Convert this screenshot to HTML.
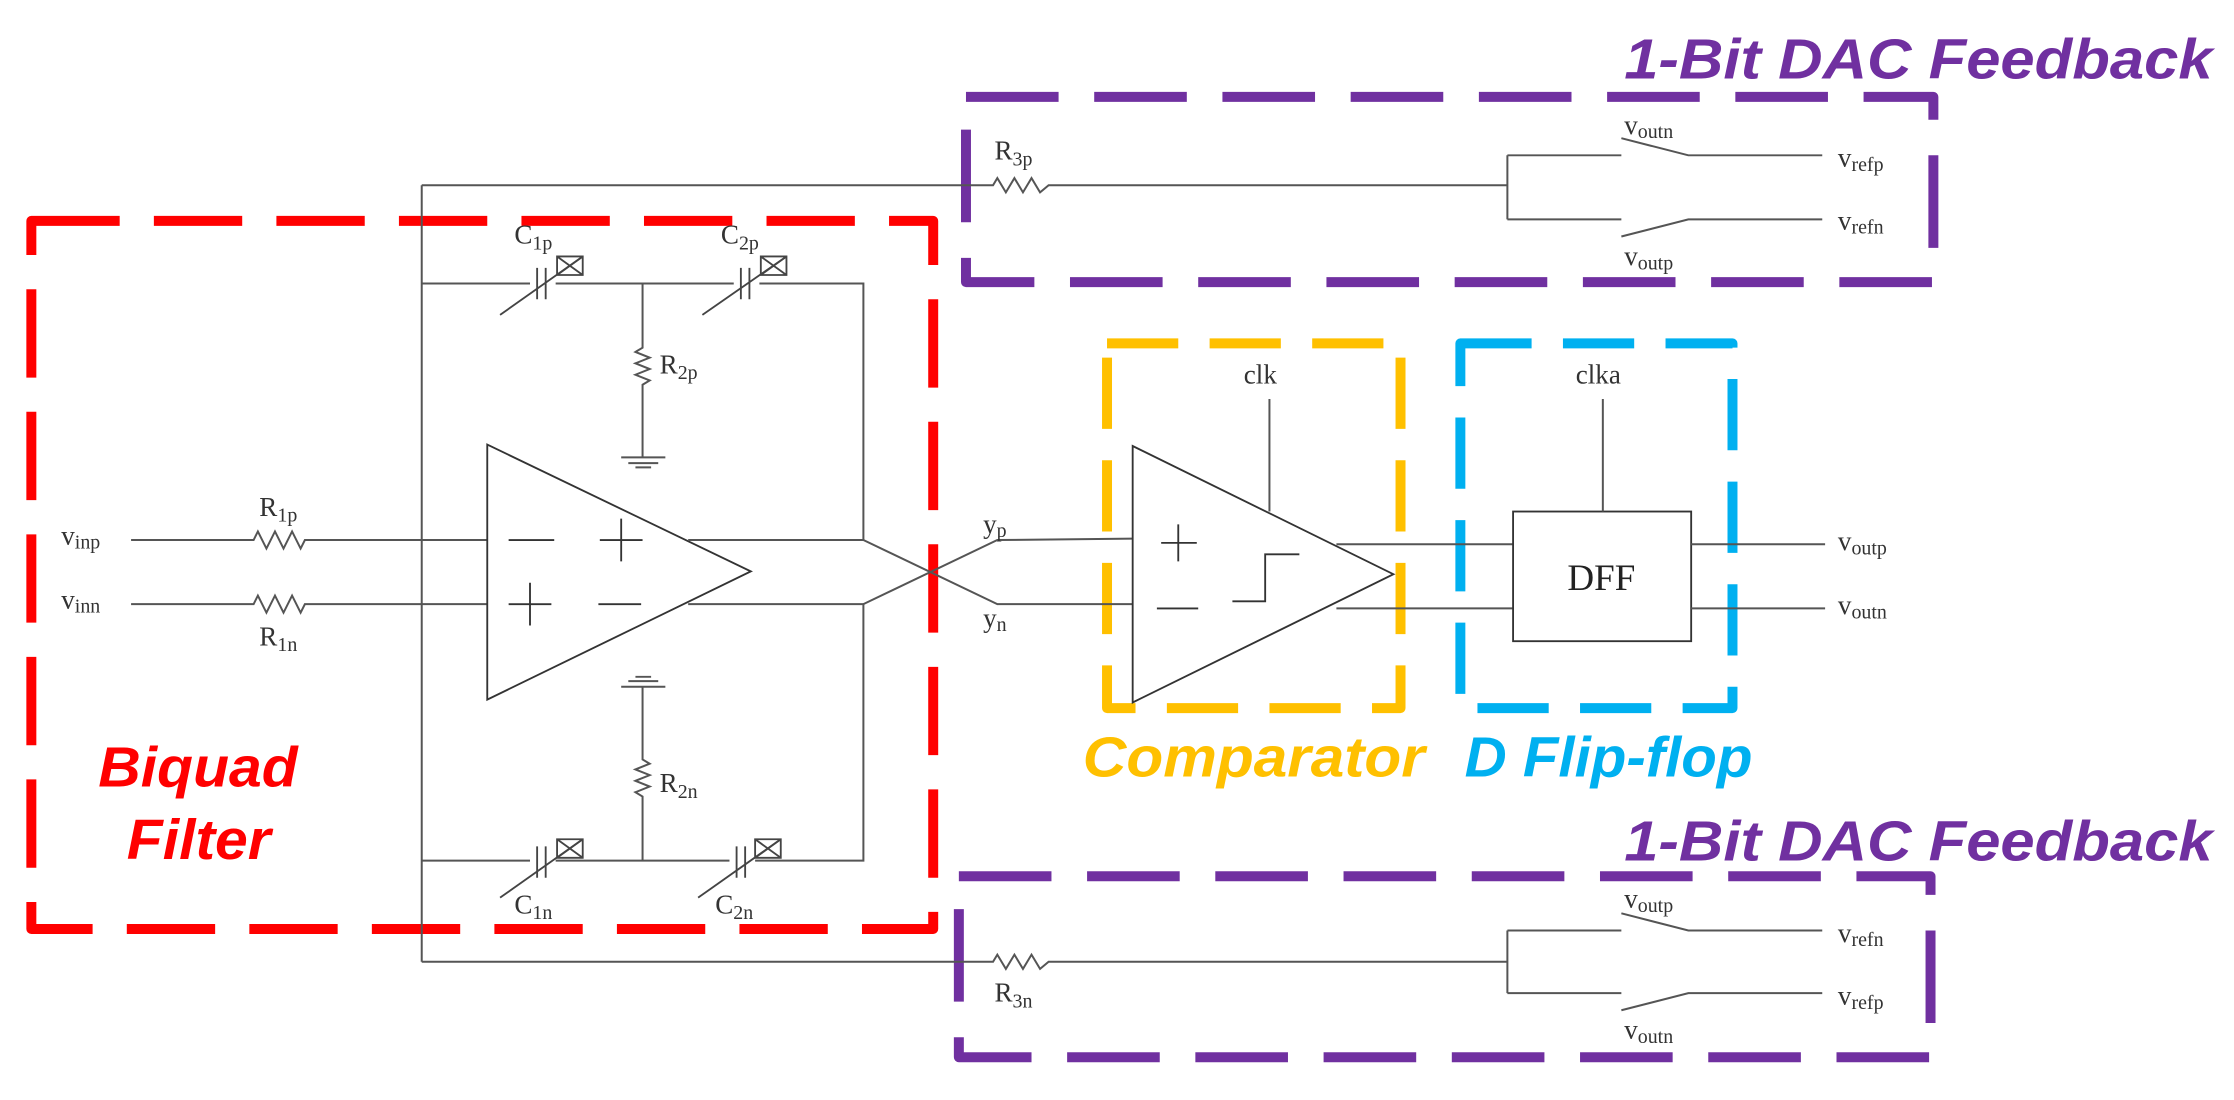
<!DOCTYPE html>
<html><head><meta charset="utf-8"><style>
html,body{margin:0;padding:0;background:#fff;}
svg{display:block;}
.w{stroke:#555;stroke-width:1.4;fill:none;}
.s{font-family:"Liberation Serif",serif;fill:#333;font-size:19px;}
.sub{font-size:14px;}
.b{font-family:"Liberation Sans",sans-serif;font-weight:bold;font-style:italic;}
</style></head><body>
<svg width="2234" height="1100" viewBox="0 0 1568 772" preserveAspectRatio="none" xmlns="http://www.w3.org/2000/svg">
<rect x="22" y="155" width="633" height="497" fill="none" stroke="#FF0000" stroke-width="7" stroke-dasharray="62 24" stroke-linejoin="round"/>
<rect x="678" y="68" width="679" height="130" fill="none" stroke="#7030A0" stroke-width="7" stroke-dasharray="65 25" stroke-linejoin="round"/>
<rect x="673" y="615" width="682" height="127" fill="none" stroke="#7030A0" stroke-width="7" stroke-dasharray="65 25" stroke-linejoin="round"/>
<rect x="777" y="241" width="206" height="256" fill="none" stroke="#FFC000" stroke-width="7" stroke-dasharray="50 22" stroke-linejoin="round"/>
<rect x="1025" y="241" width="191" height="256" fill="none" stroke="#00B0F0" stroke-width="7" stroke-dasharray="50 22" stroke-linejoin="round"/>

<text class="b" x="1140" y="55" font-size="40" fill="#7030A0" textLength="413" lengthAdjust="spacingAndGlyphs">1-Bit DAC Feedback</text>
<text class="b" x="1140" y="604" font-size="40" fill="#7030A0" textLength="413" lengthAdjust="spacingAndGlyphs">1-Bit DAC Feedback</text>
<text class="b" x="69" y="552" font-size="40" fill="#FF0000" textLength="140" lengthAdjust="spacingAndGlyphs">Biquad</text>
<text class="b" x="89" y="603" font-size="40" fill="#FF0000" textLength="101" lengthAdjust="spacingAndGlyphs">Filter</text>
<text class="b" x="760" y="545" font-size="40" fill="#FFC000" textLength="240" lengthAdjust="spacingAndGlyphs">Comparator</text>
<text class="b" x="1028" y="545" font-size="40" fill="#00B0F0" textLength="202" lengthAdjust="spacingAndGlyphs">D Flip-flop</text>

<path class="w" d="M296 130 V675"/>
<path class="w" d="M296 130 H697 l3 -5 l6 10 l6 -10 l6 10 l6 -10 l6 10 l6 -5 H1058"/>
<path class="w" d="M296 675 H697 l3 -5 l6 10 l6 -10 l6 10 l6 -10 l6 10 l6 -5 H1058"/>
<text class="s" x="698" y="112">R<tspan class="sub" dy="4">3p</tspan></text>
<text class="s" x="698" y="703">R<tspan class="sub" dy="4">3n</tspan></text>

<path class="w" d="M1058 109 V154 M1058 109 H1138 M1138 97 L1185 109 H1279 M1058 154 H1138 M1138 166 L1185 154 H1279"/>
<text class="s" x="1140" y="94">v<tspan class="sub" dy="3">outn</tspan></text>
<text class="s" x="1140" y="186">v<tspan class="sub" dy="3">outp</tspan></text>
<text class="s" x="1290" y="117">v<tspan class="sub" dy="3">refp</tspan></text>
<text class="s" x="1290" y="161">v<tspan class="sub" dy="3">refn</tspan></text>
<path class="w" d="M1058 653 V697 M1058 653 H1138 M1138 641 L1185 653 H1279 M1058 697 H1138 M1138 709 L1185 697 H1279"/>
<text class="s" x="1140" y="637">v<tspan class="sub" dy="3">outp</tspan></text>
<text class="s" x="1140" y="729">v<tspan class="sub" dy="3">outn</tspan></text>
<text class="s" x="1290" y="661">v<tspan class="sub" dy="3">refn</tspan></text>
<text class="s" x="1290" y="705">v<tspan class="sub" dy="3">refp</tspan></text>

<path class="w" d="M92 379 H178 l3 -6 l6 12 l6 -12 l6 12 l6 -12 l6 12 l3 -6 H342"/>
<path class="w" d="M92 424 H178 l3 -6 l6 12 l6 -12 l6 12 l6 -12 l6 12 l3 -6 H342"/>
<text class="s" x="43" y="382">v<tspan class="sub" dy="3">inp</tspan></text>
<text class="s" x="43" y="427">v<tspan class="sub" dy="3">inn</tspan></text>
<text class="s" x="182" y="362">R<tspan class="sub" dy="4">1p</tspan></text>
<text class="s" x="182" y="453">R<tspan class="sub" dy="4">1n</tspan></text>

<path stroke="#333" stroke-width="1.3" fill="none" d="M342 312 L527 401 L342 491 Z"/>
<path stroke="#333" stroke-width="1.3" fill="none" d="M357 379 H389 M421 379 H451 M436 364 V394 M357 424 H387 M372 409 V439 M420 424 H450"/>
<path class="w" d="M483 379 H606 V199 H296 M483 424 H606 V604 H296"/>
<path class="w" d="M606 379 L700 424 H795 M606 424 L700 379 L795 378"/>
<text class="s" x="690" y="374">y<tspan class="sub" dy="3">p</tspan></text>
<text class="s" x="690" y="440">y<tspan class="sub" dy="3">n</tspan></text>

<g stroke="#444" stroke-width="1.3" fill="#fff">
<rect x="372" y="196" width="18" height="7" stroke="none"/>
<path d="M377 188 V210 M383 188 V210" fill="none"/>
<path d="M351 221 L409 180" fill="none"/>
<path d="M391 180 H409 V193 H391 Z M391 180 L409 193 M409 180 L391 193" fill="none"/>
<rect x="515" y="196" width="18" height="7" stroke="none"/>
<path d="M520 188 V210 M526 188 V210" fill="none"/>
<path d="M493 221 L552 180" fill="none"/>
<path d="M534 180 H552 V193 H534 Z M534 180 L552 193 M552 180 L534 193" fill="none"/>
<rect x="372" y="601" width="18" height="7" stroke="none"/>
<path d="M377 594 V616 M383 594 V616" fill="none"/>
<path d="M351 630 L409 589" fill="none"/>
<path d="M391 589 H409 V602 H391 Z M391 589 L409 602 M409 589 L391 602" fill="none"/>
<rect x="512" y="601" width="18" height="7" stroke="none"/>
<path d="M517 594 V616 M523 594 V616" fill="none"/>
<path d="M490 630 L548 589" fill="none"/>
<path d="M530 589 H548 V602 H530 Z M530 589 L548 602 M548 589 L530 602" fill="none"/>
</g>
<text class="s" x="361" y="171">C<tspan class="sub" dy="4">1p</tspan></text>
<text class="s" x="506" y="171">C<tspan class="sub" dy="4">2p</tspan></text>
<text class="s" x="361" y="641">C<tspan class="sub" dy="4">1n</tspan></text>
<text class="s" x="502" y="641">C<tspan class="sub" dy="4">2n</tspan></text>

<path class="w" d="M451 199 V244 l-5 3 l10 4 l-10 4 l10 4 l-10 4 l10 4 l-5 3 V321 M436 321 H467 M441 325 H462 M446 328 H457"/>
<path class="w" d="M451 604 V559 l-5 -3 l10 -4 l-10 -4 l10 -4 l-10 -4 l10 -4 l-5 -3 V482 M436 482 H467 M441 478 H462 M446 475 H457"/>
<text class="s" x="463" y="262">R<tspan class="sub" dy="4">2p</tspan></text>
<text class="s" x="463" y="556">R<tspan class="sub" dy="4">2n</tspan></text>

<path stroke="#333" stroke-width="1.3" fill="none" d="M795 313 L978 403 L795 493 Z"/>
<path stroke="#333" stroke-width="1.3" fill="none" d="M815 381 H840 M827 368 V394 M812 427 H841 M865 422 H888 V389 H912"/>
<path class="w" d="M891 280 V359"/>
<text class="s" x="873" y="269">clk</text>
<path class="w" d="M938 382 H1062 M938 427 H1062"/>
<rect x="1062" y="359" width="125" height="91" fill="none" stroke="#333" stroke-width="1.3"/>
<text x="1124" y="414" text-anchor="middle" font-family="Liberation Serif,serif" font-size="26" fill="#222">DFF</text>
<path class="w" d="M1125 280 V359"/>
<text class="s" x="1106" y="269">clka</text>
<path class="w" d="M1187 382 H1281 M1187 427 H1281"/>
<text class="s" x="1290" y="386">v<tspan class="sub" dy="3">outp</tspan></text>
<text class="s" x="1290" y="431">v<tspan class="sub" dy="3">outn</tspan></text>
</svg>
</body></html>
